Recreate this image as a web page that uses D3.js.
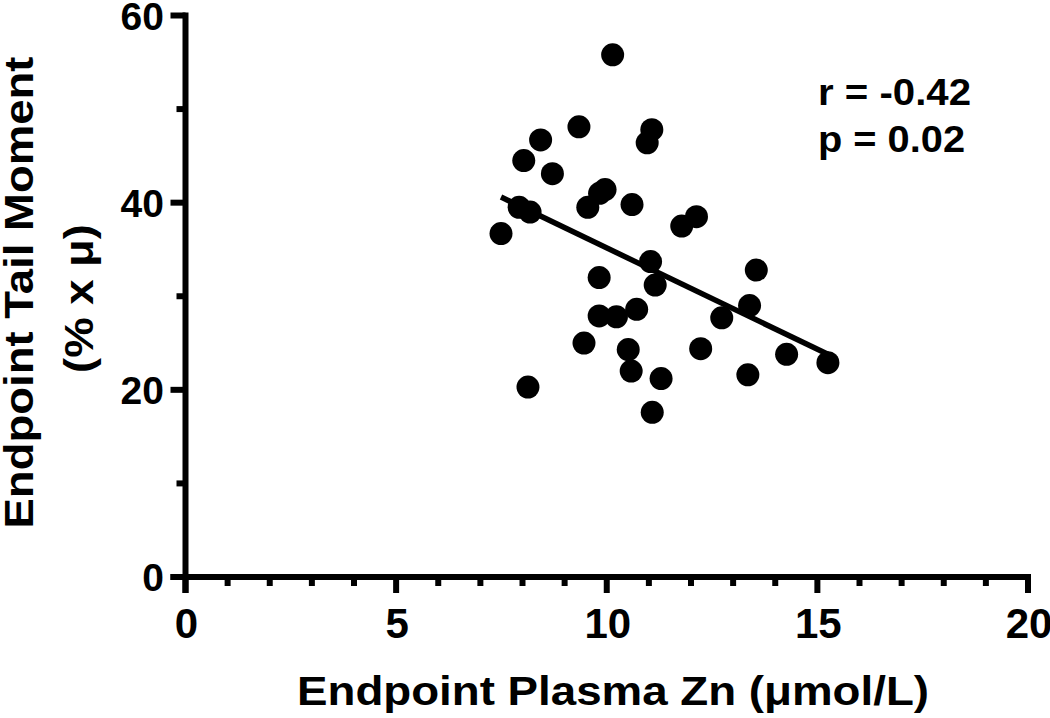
<!DOCTYPE html>
<html><head><meta charset="utf-8">
<script src="https://cdn.jsdelivr.net/npm/d3@7"></script>
<style>body{margin:0;background:#fff}svg{display:block}text{font-family:"Liberation Sans",Arial,sans-serif;font-weight:bold;fill:#000}</style>
</head><body><svg id="c" width="1050" height="718"></svg>
<script>
const zincX = [10.14,9.34,11.07,10.96,8.43,8.03,8.71,9.96,9.83,9.55,10.6,7.92,8.18,7.49,12.13,11.78,
  11.04,13.55,9.82,11.15,13.39,12.73,9.82,10.23,10.71,9.46,10.51,12.23,14.27,15.25,10.58,11.29,13.35,8.13,11.08];
const tailY = [55.8,48.1,47.8,46.4,46.7,44.5,43.1,41.4,41.0,39.5,39.8,39.5,39.0,36.7,38.5,37.5,
  33.7,32.8,32.0,31.2,29.0,27.7,27.9,27.8,28.6,25.0,24.3,24.4,23.8,22.9,22.0,21.2,21.6,20.3,17.6];
const fitX = [7.49, 15.25];
const fitY = [40.6, 23.8];
const xTicks = [0,5,10,15,20];
const yTicks = [0,20,40,60];
const xMinor = d3.range(0,21,1);
const yMinor = [10,30,50];
const stats = ["r = -0.42","p = 0.02"];

const svg = d3.select("#c");
const x = d3.scaleLinear().domain([0,20]).range([185.5,1028]);
const y = d3.scaleLinear().domain([0,60]).range([577,15.5]);
const sw = 6;

// x axis
const gx = svg.append("g");
gx.append("line").attr("x1",x(0)-15).attr("x2",x(20)+3).attr("y1",y(0)).attr("y2",y(0)).attr("stroke","#000").attr("stroke-width",sw);
gx.selectAll(".mn").data(xMinor.filter(d=>d%5)).join("line").attr("x1",d=>x(d)).attr("x2",d=>x(d)).attr("y1",y(0)).attr("y2",y(0)+9).attr("stroke","#000").attr("stroke-width",sw);
gx.selectAll(".mj").data(xTicks).join("line").attr("x1",d=>x(d)).attr("x2",d=>x(d)).attr("y1",y(0)).attr("y2",y(0)+16).attr("stroke","#000").attr("stroke-width",sw);
gx.selectAll("text").data(xTicks).join("text").attr("x",d=>x(d)+1).attr("y",638).attr("text-anchor","middle").attr("font-size",42).text(d=>d);

// y axis
const gy = svg.append("g");
gy.append("line").attr("x1",x(0)).attr("x2",x(0)).attr("y1",y(60)-3).attr("y2",y(0)+16).attr("stroke","#000").attr("stroke-width",sw);
gy.selectAll(".mn").data(yMinor).join("line").attr("x1",x(0)-9).attr("x2",x(0)).attr("y1",d=>y(d)).attr("y2",d=>y(d)).attr("stroke","#000").attr("stroke-width",sw);
gy.selectAll(".mj").data(yTicks).join("line").attr("x1",x(0)-15).attr("x2",x(0)).attr("y1",d=>y(d)).attr("y2",d=>y(d)).attr("stroke","#000").attr("stroke-width",sw);
gy.selectAll("text").data(yTicks).join("text").attr("x",164).attr("y",d=>y(d)+14).attr("text-anchor","end").attr("font-size",39).text(d=>d);

// fit line
svg.append("line").attr("x1",x(fitX[0])).attr("y1",y(fitY[0])).attr("x2",x(fitX[1])).attr("y2",y(fitY[1])).attr("stroke","#000").attr("stroke-width",5.5);

// points
svg.selectAll("circle").data(zincX.map((v,i)=>[v,tailY[i]])).join("circle")
  .attr("cx",d=>x(d[0])).attr("cy",d=>y(d[1])).attr("r",11.5).attr("fill","#000");

// labels
svg.append("text").attr("transform","translate(33,292.5) rotate(-90)").attr("text-anchor","middle").attr("font-size",40)
  .attr("textLength",472).attr("lengthAdjust","spacingAndGlyphs").text("Endpoint Tail Moment");
svg.append("text").attr("transform","translate(93,298.5) rotate(-90)").attr("text-anchor","middle").attr("font-size",40)
  .attr("textLength",149).attr("lengthAdjust","spacingAndGlyphs").text("(% x μ)");
svg.append("text").attr("x",297).attr("y",705).attr("font-size",40)
  .attr("textLength",632).attr("lengthAdjust","spacingAndGlyphs").text("Endpoint Plasma Zn (μmol/L)");
const statLen = [153,147];
svg.selectAll(".st").data(stats).join("text").attr("x",818).attr("y",(d,i)=>i?152:105).attr("font-size",37)
  .attr("textLength",(d,i)=>statLen[i]).attr("lengthAdjust","spacingAndGlyphs").text(d=>d);
</script></body></html>
